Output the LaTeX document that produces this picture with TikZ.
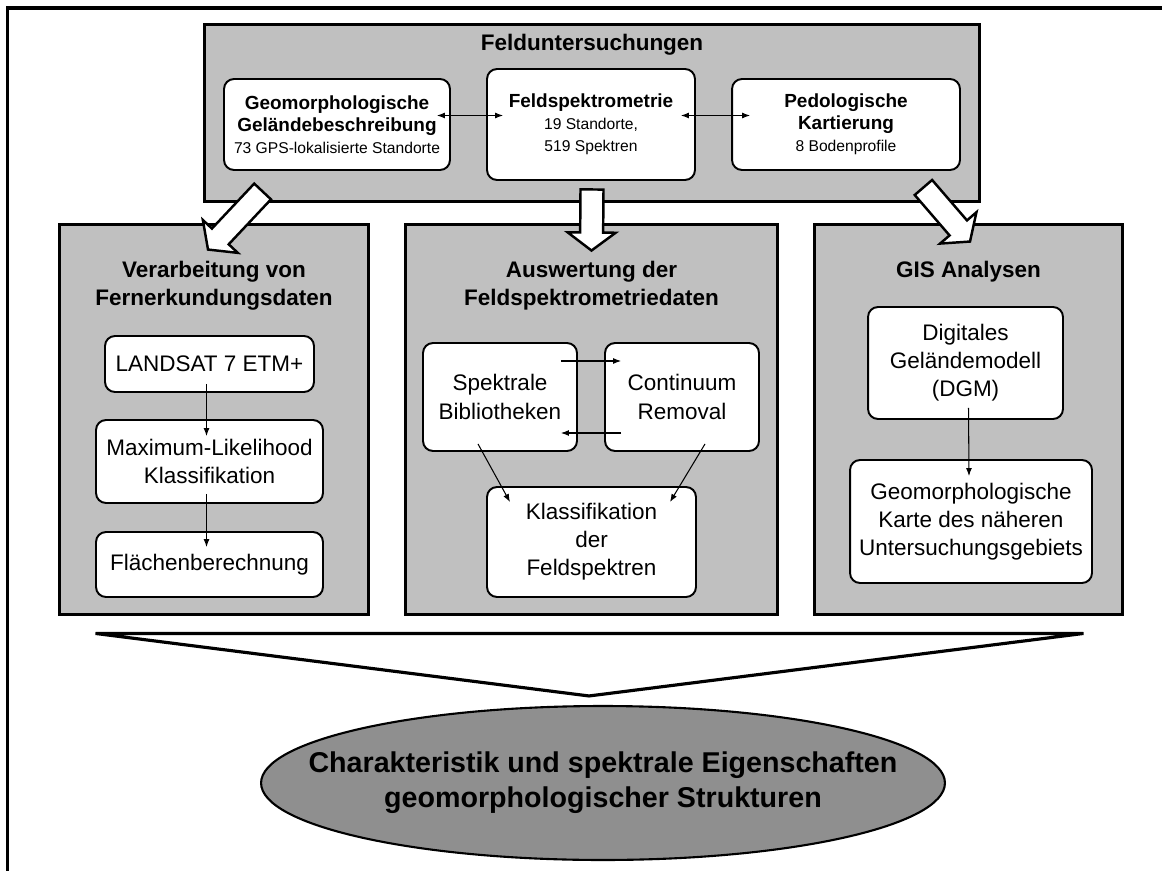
\documentclass[tikz,border=0pt]{standalone}
\usepackage{fontspec}
\setmainfont{Liberation Sans}
\usetikzlibrary{calc,arrows.meta,shapes.geometric}

\definecolor{boxgray}{RGB}{192,192,192}
\definecolor{zielgray}{RGB}{143,143,143}

\tikzset{
  bereich/.style={draw, line width=1.7pt, fill=boxgray, inner sep=0pt},
  kasten/.style={draw, line width=1.1pt, fill=white, rounded corners=2mm, align=center, inner sep=0pt, font=\fontsize{12.8}{16}\selectfont},
  feldkasten/.style={kasten, minimum height=1.82cm, font=\fontsize{10.8}{12.5}\selectfont\bfseries},
  titel/.style={align=center, font=\fontsize{12.8}{16}\selectfont\bfseries},
  pfeil/.style={-{Latex[length=1.6mm,width=1.2mm]}, semithick},
  doppelpfeil/.style={{Latex[length=1.6mm,width=1.2mm]}-{Latex[length=1.6mm,width=1.2mm]}, semithick},
  blockpfeil/.style={draw, fill=white, line width=1.4pt, line join=miter},
}

\newcommand{\fatarrow}[3]{%
  \coordinate (#3) at ($(#2)!0.36cm!(#1)$);
  \draw[blockpfeil] ($(#1)!0.23cm!-90:(#2)$) -- ($(#3)!0.23cm!90:(#1)$) -- ($(#3)!0.48cm!90:(#1)$) -- (#2)
    -- ($(#3)!0.48cm!-90:(#1)$) -- ($(#3)!0.23cm!-90:(#1)$) -- ($(#1)!0.23cm!90:(#2)$) -- cycle;
}

\begin{document}
\begin{tikzpicture}[x=0.02cm, y=-0.02cm]
\useasboundingbox (0,0) rectangle (1162,871);
\draw[line width=1.8pt] (1162,8) -| (7.5,871);

\node[bereich, minimum width=15.52cm, minimum height=3.56cm] (feld) at (592,113) {};
\node[titel] (feldtitel) at (592,45) {Felduntersuchungen};
\node[feldkasten, minimum width=4.52cm] (geo) at (337,124.5) {Geomorphologische\\Geländebeschreibung\\{\mdseries\fontsize{8.9}{12}\selectfont 73 GPS-lokalisierte Standorte}};
\node[feldkasten, minimum width=4.16cm, minimum height=2.22cm] (spektro) at (591,124.5) {Feldspektrometrie\\{\mdseries\fontsize{8.9}{12}\selectfont 19 Standorte,}\\{\mdseries\fontsize{8.9}{12}\selectfont 519 Spektren}};
\node[feldkasten, minimum width=4.56cm] (pedo) at (846,124.5) {Pedologische\\Kartierung\\{\mdseries\fontsize{8.9}{12}\selectfont 8 Bodenprofile}};
\draw[doppelpfeil] ($(geo.east)+(-14,-9)$) -- ($(spektro.west)+(17,-9)$);
\draw[doppelpfeil] ($(spektro.east)+(-15,-9)$) -- ($(pedo.west)+(19,-9)$);

\node[bereich, minimum width=6.2cm, minimum height=7.82cm] (verarb) at (214,419.5) {};
\node[bereich, minimum width=7.46cm, minimum height=7.82cm] (auswert) at (591.5,419.5) {};
\node[bereich, minimum width=6.18cm, minimum height=7.82cm] (gis) at (968.5,419.5) {};

\coordinate (a1) at ($(feld.south west)+(60,-12)$);
\coordinate (b1) at ($(verarb.north)+(-6,27)$);
\coordinate (a2) at ($(feld.south)+(0,-14)$);
\coordinate (b2) at ($(auswert.north)+(0,28)$);
\coordinate (a3) at ($(feld.south east)+(-58,-16)$);
\coordinate (b3) at ($(gis.north)+(1.5,19)$);
\fatarrow{a1}{b1}{n1}
\fatarrow{a2}{b2}{n2}
\fatarrow{a3}{b3}{n3}

\node[titel] (verarbtitel) at (214,286) {Verarbeitung von\\Fernerkundungsdaten};
\node[titel] (auswerttitel) at (591.5,286) {Auswertung der\\Feldspektrometriedaten};
\node[titel] (gistitel) at (968.5,272) {GIS Analysen};

\node[kasten, minimum width=4.18cm, minimum height=1.12cm] (landsat) at (209.5,364) {LANDSAT 7 ETM+};
\node[kasten, minimum width=4.54cm, minimum height=1.66cm] (maxlik) at (209.5,461.5) {Maximum-Likelihood\\Klassifikation};
\node[kasten, minimum width=4.54cm, minimum height=1.3cm] (flaeche) at (209.5,564.5) {Flächenberechnung};
\draw[pfeil] ($(landsat.south)+(-3,-9)$) -- ($(maxlik.north)+(-3,17)$);
\draw[pfeil] ($(maxlik.south)+(-3,-10)$) -- ($(flaeche.north)+(-3,16)$);

\node[kasten, minimum width=3.08cm, minimum height=2.16cm] (spekbib) at (500,397) {Spektrale\\Bibliotheken};
\node[kasten, minimum width=3.08cm, minimum height=2.16cm] (contrem) at (682,397) {Continuum\\Removal};
\node[kasten, minimum width=4.18cm, minimum height=2.2cm] (klass) at (591.5,542) {Klassifikation\\der\\Feldspektren};
\draw[pfeil] ($(spekbib.east)+(-17,-36)$) -- ($(contrem.west)+(17,-36)$);
\draw[pfeil] ($(contrem.west)+(17,36)$) -- ($(spekbib.east)+(-17,36)$);
\draw[pfeil] ($(spekbib.south)+(-22,-8)$) -- ($(klass.north)+(-81.5,16)$);
\draw[pfeil] ($(contrem.south)+(23,-8)$) -- ($(klass.north)+(78.5,16)$);

\node[kasten, minimum width=3.9cm, minimum height=2.24cm] (dgm) at (965.5,363) {Digitales\\Geländemodell\\(DGM)};
\node[kasten, minimum width=4.84cm, minimum height=2.46cm] (karte) at (971,521.5) {Geomorphologische\\Karte des näheren\\Untersuchungsgebiets};
\draw[pfeil] ($(dgm.south)+(3,-12)$) -- ($(karte.north)+(-2,17)$);

\node[ellipse, draw, line width=1.2pt, fill=zielgray, inner sep=0pt, minimum width=13.68cm, minimum height=3.08cm] (ziel) at (603,783) {};
\node[align=center, font=\fontsize{16.3}{19.9}\selectfont\bfseries] (zieltext) at (ziel.center) {Charakteristik und spektrale Eigenschaften\\geomorphologischer Strukturen};
\coordinate (tl) at ($(verarb.south west)+(38,17)$);
\coordinate (tr) at ($(gis.south east)+(-41,17)$);
\coordinate (apex) at ($(ziel.north)+(-14,-9)$);
\draw[line width=1.8pt, line join=miter] (tl) -- (tr) -- (apex) -- cycle;
\end{tikzpicture}
\end{document}
